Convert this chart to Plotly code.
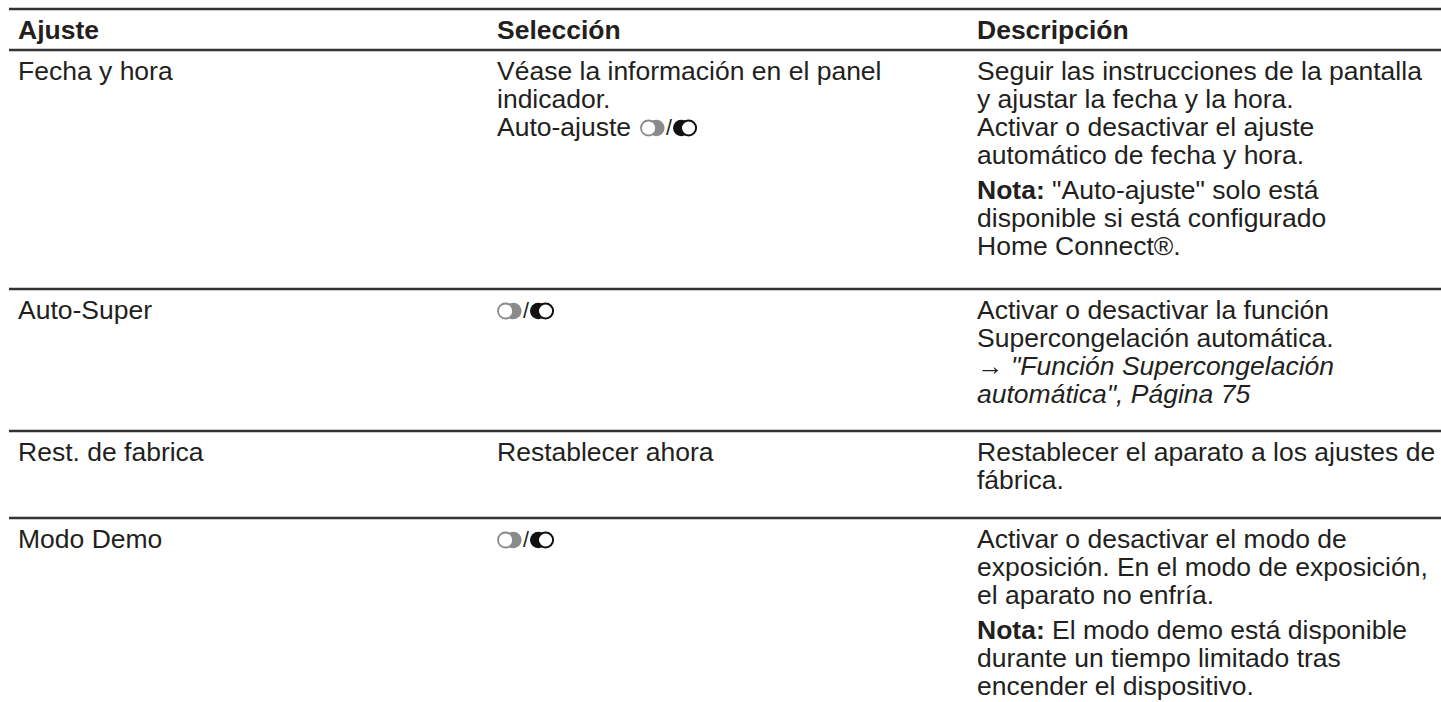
import plotly.graph_objects as go

# ---- data (table content) ----
headers = ["Ajuste", "Selección", "Descripción"]
settings = ["Fecha y hora", "Auto-Super", "Rest. de fabrica", "Modo Demo"]
selections = [
    ["Véase la información en el panel", "indicador.", "Auto-ajuste"],
    [""],
    ["Restablecer ahora"],
    [""],
]
has_toggle = [True, True, False, True]
descriptions = [
    [["Seguir las instrucciones de la pantalla", "y ajustar la fecha y la hora.",
      "Activar o desactivar el ajuste", "automático de fecha y hora."],
     ["<b>Nota:</b> \"Auto-ajuste\" solo está", "disponible si está configurado",
      "Home Connect®."]],
    [["Activar o desactivar la función", "Supercongelación automática.",
      "→ <i>\"Función Supercongelación</i>", "<i>automática\", Página 75</i>"]],
    [["Restablecer el aparato a los ajustes de", "fábrica."]],
    [["Activar o desactivar el modo de", "exposición. En el modo de exposición,",
      "el aparato no enfría."],
     ["<b>Nota:</b> El modo demo está disponible", "durante un tiempo limitado tras",
      "encender el dispositivo."]],
]

# ---- layout constants (pixels) ----
W, H = 1441, 702
COL_X = [16, 495, 975]
LINE_X0 = 9
FONT = "Liberation Sans, Arial, Helvetica, sans-serif"
FS = 26.5
TXT = "#231f20"
RULE = "#333333"
LH = 28          # line height
PARA = 7         # extra gap between paragraphs
TOP_RULE = 9
HEAD_Y = 30
HEAD_RULE = 50
FIRST_OFF = 21   # rule -> first text line centre
ROW_RULES = [289, 431, 518]
TOGGLE_AFTER_TEXT = 143

fig = go.Figure()
fig.add_trace(go.Scatter(x=[0, W], y=[0, H], mode="markers",
                         marker=dict(opacity=0), hoverinfo="skip", showlegend=False))

ann = []
shapes = []

def text(x, y, s, bold=False):
    ann.append(dict(x=x, y=y, xref="x", yref="y", text=(f"<b>{s}</b>" if bold else s),
                    showarrow=False, xanchor="left", yanchor="middle",
                    font=dict(family=FONT, size=FS, color=TXT)))

def rule(y):
    shapes.append(dict(type="line", xref="x", yref="y", x0=LINE_X0, x1=W, y0=y, y1=y,
                       line=dict(color=RULE, width=2.4)))

def toggles(x, y):
    r = 8.3
    # off toggle: grey knob behind, white ring in front (left)
    shapes.append(dict(type="circle", xref="x", yref="y", x0=x + 8, x1=x + 8 + 2 * r,
                       y0=y - r, y1=y + r, fillcolor="#8a8a8a", line=dict(width=0)))
    shapes.append(dict(type="circle", xref="x", yref="y", x0=x + 1, x1=x + 2 * r - 0.5,
                       y0=y - r + 0.8, y1=y + r - 0.8, fillcolor="white",
                       line=dict(color="#8a8a8a", width=1.8)))
    ann.append(dict(x=x + 28.5, y=y, xref="x", yref="y", text="/", showarrow=False,
                    xanchor="center", yanchor="middle",
                    font=dict(family=FONT, size=FS - 5, color=TXT)))
    x2 = x + 33
    shapes.append(dict(type="circle", xref="x", yref="y", x0=x2, x1=x2 + 2 * r,
                       y0=y - r, y1=y + r, fillcolor="#111111", line=dict(width=0)))
    shapes.append(dict(type="circle", xref="x", yref="y", x0=x2 + 8, x1=x2 + 7.5 + 2 * r - 1,
                       y0=y - r + 0.8, y1=y + r - 0.8, fillcolor="white",
                       line=dict(color="#111111", width=2)))

rule(TOP_RULE)
for cx, h in zip(COL_X, headers):
    text(cx, HEAD_Y, h, bold=True)
rule(HEAD_RULE)

prev = HEAD_RULE
for i in range(len(settings)):
    y0 = prev + FIRST_OFF
    text(COL_X[0], y0, settings[i])
    # selection column
    for k, line in enumerate(selections[i]):
        if line:
            text(COL_X[1], y0 + k * LH, line)
    if has_toggle[i]:
        last = selections[i][-1]
        ty = y0 + (len(selections[i]) - 1) * LH
        tx = COL_X[1] + 2 + (TOGGLE_AFTER_TEXT if last else 0)
        toggles(tx, ty + 1)
    # description column
    y = y0
    for p, para in enumerate(descriptions[i]):
        if p > 0:
            y += PARA
        for line in para:
            text(COL_X[2], y, line)
            y += LH
    if i < len(ROW_RULES):
        rule(ROW_RULES[i])
        prev = ROW_RULES[i]

fig.update_layout(
    width=W, height=H, margin=dict(l=0, r=0, t=0, b=0),
    paper_bgcolor="white", plot_bgcolor="white",
    xaxis=dict(range=[0, W], visible=False, fixedrange=True),
    yaxis=dict(range=[H, 0], visible=False, fixedrange=True),
    annotations=ann, shapes=shapes, showlegend=False,
)
fig.write_html("out.html", config={"displayModeBar": False},
               post_script="document.body.style.margin='0';document.body.style.overflow='hidden';")
